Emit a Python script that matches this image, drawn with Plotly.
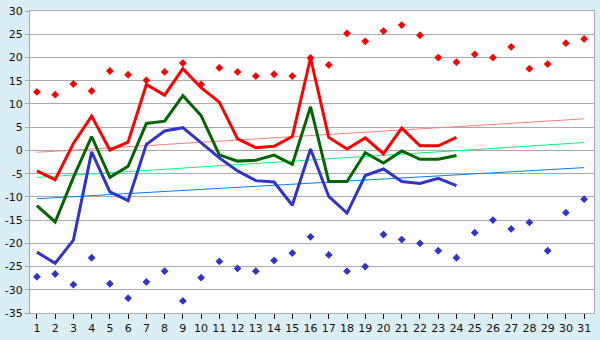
import plotly.graph_objects as go

# Day of month
days = list(range(1, 32))
days_obs = list(range(1, 25))

# Observed daily maximum / mean / minimum temperatures (°C)
t_max = [-4.4, -6.3, 1.5, 7.4, 0.1, 1.8, 14.2, 11.9, 17.6, 13.5, 10.4, 2.5,
         0.6, 0.9, 3.0, 19.9, 2.8, 0.3, 2.7, -0.7, 4.8, 1.0, 1.0, 2.8]
t_mean = [-11.9, -15.4, -5.8, 3.0, -5.8, -3.4, 5.8, 6.3, 11.8, 7.5, -0.95, -2.3,
          -2.1, -1.0, -3.0, 9.4, -6.7, -6.7, -0.5, -2.7, -0.1, -1.9, -1.9, -1.1]
t_min = [-21.9, -24.3, -19.3, -0.3, -8.9, -10.8, 1.3, 4.2, 4.9, 1.6, -1.6, -4.4,
         -6.5, -6.8, -11.8, 0.3, -9.9, -13.5, -5.4, -4.0, -6.7, -7.1, -6.0, -7.6]

# Record highs and lows for each day
rec_max = [12.6, 12.0, 14.3, 12.8, 17.1, 16.3, 15.1, 16.9, 18.8, 14.2, 17.8, 16.9,
           16.0, 16.4, 16.0, 19.9, 18.4, 25.2, 23.5, 25.7, 27.0, 24.8, 20.0, 19.0,
           20.7, 20.0, 22.3, 17.6, 18.6, 23.1, 24.0]
rec_min = [-27.2, -26.6, -28.9, -23.1, -28.7, -31.8, -28.3, -26.0, -32.4, -27.4,
           -23.9, -25.4, -26.0, -23.7, -22.1, -18.6, -22.5, -26.0, -25.0, -18.1,
           -19.2, -20.0, -21.6, -23.1, -17.7, -15.0, -16.9, -15.5, -21.6, -13.4, -10.5]

# Climatological normals: values on the first and last day of the month
trend_days = [1, 31]
norm_max = [-0.4, 6.8]
norm_mean = [-5.8, 1.7]
norm_min = [-10.4, -3.7]

y_ticks = list(range(-35, 35, 5))

RED = "#ff0000"
GREEN = "#006600"
BLUE = "#3333cc"

fig = go.Figure()

fig.add_trace(go.Scatter(x=trend_days, y=norm_max, mode="lines",
                         line=dict(color="#ff8080", width=1)))
fig.add_trace(go.Scatter(x=trend_days, y=norm_mean, mode="lines",
                         line=dict(color="#00ff80", width=1)))
fig.add_trace(go.Scatter(x=trend_days, y=norm_min, mode="lines",
                         line=dict(color="#0080ff", width=1)))

fig.add_trace(go.Scatter(x=days, y=rec_max, mode="markers",
                         marker=dict(symbol="diamond", size=6, color=RED)))
fig.add_trace(go.Scatter(x=days, y=rec_min, mode="markers",
                         marker=dict(symbol="diamond", size=6, color=BLUE)))

fig.add_trace(go.Scatter(x=days_obs, y=t_max, mode="lines",
                         line=dict(color=RED, width=3)))
fig.add_trace(go.Scatter(x=days_obs, y=t_mean, mode="lines",
                         line=dict(color=GREEN, width=3)))
fig.add_trace(go.Scatter(x=days_obs, y=t_min, mode="lines",
                         line=dict(color=BLUE, width=3)))

GRID = "#aaaaaa"
fig.update_layout(
    width=600, height=340,
    margin=dict(l=27, r=5, t=5, b=20),
    paper_bgcolor="#daeef5",
    plot_bgcolor="#ffffff",
    showlegend=False,
    font=dict(family="DejaVu Sans", size=11, color="#111111"),
)
fig.update_xaxes(
    range=[0.62, 31.54], tickmode="array", tickvals=days,
    ticktext=[str(d) for d in days],
    showgrid=False, zeroline=False,
    showline=True, linecolor=GRID, linewidth=1, mirror=True,
    ticks="outside", ticklen=5, tickcolor="#000000", tickwidth=1,
    tickfont=dict(size=11),
)
fig.update_yaxes(
    range=[-35, 30.02], tickmode="array", tickvals=y_ticks,
    ticktext=[str(v) for v in y_ticks],
    ticklabeloverflow="allow",
    showgrid=True, gridcolor=GRID, gridwidth=1, zeroline=False,
    showline=True, linecolor=GRID, linewidth=1, mirror=True,
    ticks="outside", ticklen=4, tickcolor=GRID,
    tickfont=dict(size=11),
)

fig.write_html("out.html")
